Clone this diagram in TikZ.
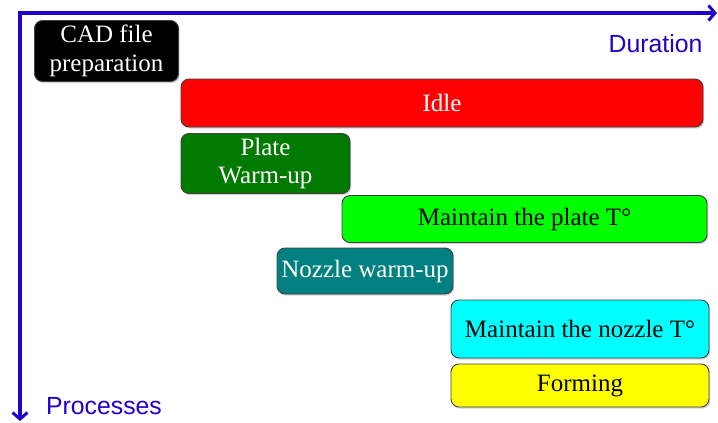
\documentclass[tikz,border=0pt]{standalone}
\usepackage{fontspec}
\setmainfont{Liberation Serif}
\setsansfont{Liberation Sans}
\usetikzlibrary{arrows.meta,shadows}
\definecolor{axisblue}{RGB}{34,0,204}
\definecolor{darkgreen}{RGB}{0,122,0}
\definecolor{brightgreen}{RGB}{0,255,0}
\definecolor{tealbox}{RGB}{0,128,128}
\definecolor{cyanbox}{RGB}{0,255,255}
\definecolor{yellowbox}{RGB}{255,255,0}
\tikzset{
  procbox/.style={draw=black!75, line width=0.9pt, rounded corners=8pt, inner sep=0pt, outer sep=0pt,
    align=center, font=\fontsize{25}{28.5}\selectfont,
    drop shadow={shadow xshift=1.2pt, shadow yshift=-1.6pt, opacity=0.35}},
  axislabel/.style={font=\sffamily\fontsize{24.8}{28}\selectfont, text=axisblue, inner sep=0pt},
  axisline/.style={draw=axisblue, line width=3.6pt, line join=miter,
    {Straight Barb[length=6.5pt,width=15pt,line width=3pt]}-{Straight Barb[length=6.5pt,width=15pt,line width=3pt]}}
}
\begin{document}
\begin{tikzpicture}[x=1pt,y=-1pt]
\useasboundingbox (0,0) rectangle (718,423);
\fill[white] (0,0) rectangle (718,423);
\coordinate (o) at (20,13);
\coordinate (xend) at (717,13);
\coordinate (yend) at (20,421);
\draw[axisline] (yend) -- (o) -- (xend);
\node[axislabel] (dur) at (655.5,44) {Duration};
\node[axislabel] (proc) at (104,406) {Processes};
\node[procbox, fill=black, text=white, minimum width=144pt, minimum height=61pt] (cad) at (106.5,51) {CAD file\\preparation};
\node[procbox, fill=red, text=white, minimum width=522pt, minimum height=48pt] (idle) at (442,103) {Idle};
\node[procbox, fill=darkgreen, text=white, minimum width=169pt, minimum height=60pt] (plate) at (265.5,163.5) {Plate\\Warm-up};
\node[procbox, fill=brightgreen, text=black, minimum width=365pt, minimum height=47pt] (mplate) at (524.5,219) {Maintain the plate T°};
\node[procbox, fill=tealbox, text=white, minimum width=176pt, minimum height=46pt] (nozzle) at (365,271) {Nozzle warm-up};
\node[procbox, fill=cyanbox, text=black, minimum width=258pt, minimum height=58pt] (mnozzle) at (580,329) {Maintain the nozzle T°};
\node[procbox, fill=yellowbox, text=black, minimum width=258pt, minimum height=43pt] (forming) at (580,385.5) {Forming};
\end{tikzpicture}
\end{document}
